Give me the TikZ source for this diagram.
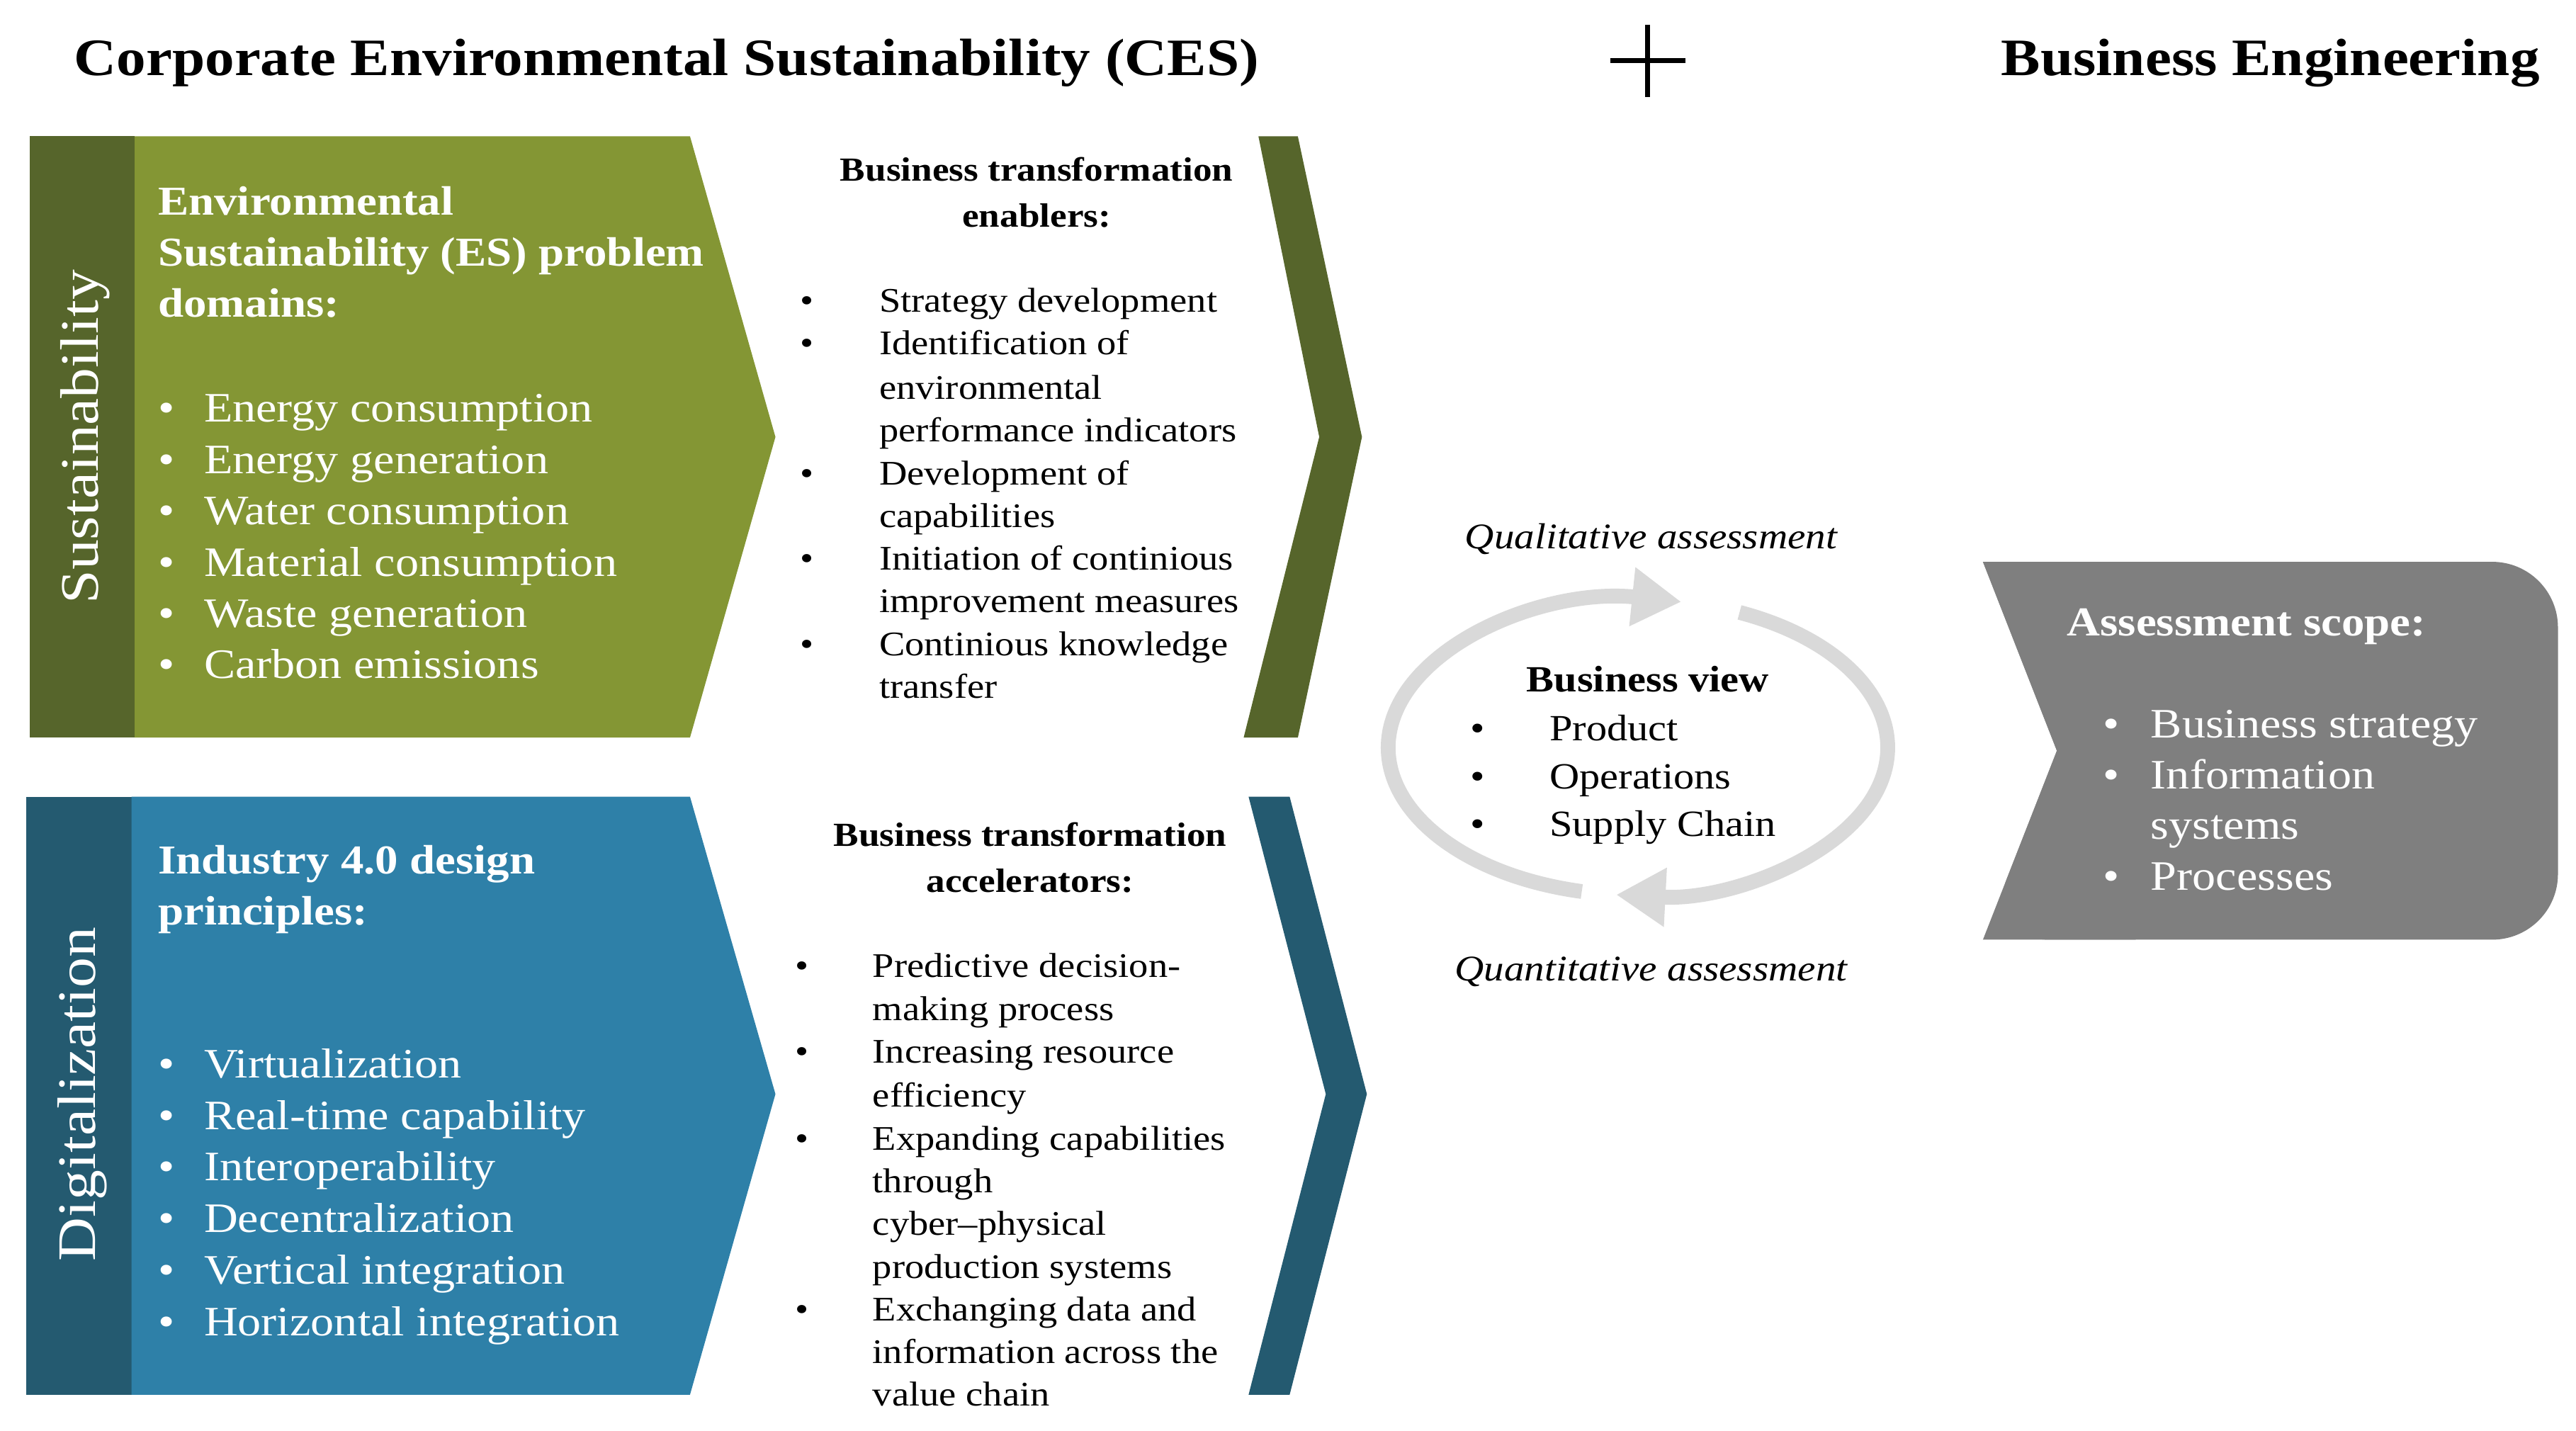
\documentclass[tikz,border=0pt]{standalone}
\usepackage{fontspec}
\setmainfont[FakeStretch=1.12]{Liberation Serif}
\usetikzlibrary{arrows.meta}
\definecolor{dgreen}{HTML}{56652B}
\definecolor{lgreen}{HTML}{849634}
\definecolor{dblue}{HTML}{245A70}
\definecolor{lblue}{HTML}{2E80A8}
\definecolor{sgray}{HTML}{7F7F7F}
\definecolor{cgray}{HTML}{D9D9D9}
\tikzset{
  ttl/.style={font=\fontsize{32}{36}\selectfont\bfseries, anchor=base west, inner sep=0},
  wt/.style={text=white, font=\fontsize{25.5}{28}\selectfont, anchor=base west, inner sep=0},
  wtb/.style={wt, font=\fontsize{25}{28}\selectfont\bfseries},
  sm/.style={font=\fontsize{21}{24}\selectfont, anchor=base west, inner sep=0},
  smb/.style={font=\fontsize{20.5}{24}\selectfont\bfseries, anchor=base, inner sep=0},
  mid/.style={font=\fontsize{22.5}{26}\selectfont, anchor=base west, inner sep=0},
  rot/.style={text=white, font=\fontsize{33}{36}\selectfont, rotate=90, inner sep=0},
  cyc/.style={cgray, line width=9pt},
}
\begin{document}
\begin{tikzpicture}[x=1pt,y=-1pt]
\useasboundingbox (0,0) rectangle (1568,871);
% titles
\node[ttl] (t1) at (45,46) {Corporate Environmental Sustainability (CES)};
\node[ttl] (t2) at (1218,46) {Business Engineering};
\draw[line width=3pt] (980,37) -- (1026,37) (1003,15) -- (1003,59);
% green panel
\fill[dgreen] (18,83) rectangle (82,449);
\fill[lgreen] (82,83) -- (420,83) -- (472,266) -- (420,449) -- (82,449) -- cycle;
\node[rot] (sus) at (52,266) {Sustainability};
\node[wtb] (g1) at (96,131) {Environmental};
\node[wtb] (g2) at (96,162) {Sustainability (ES) problem};
\node[wtb] (g3) at (96,193) {domains:};
\foreach \t [count=\i] in {Energy consumption,Energy generation,Water consumption,Material consumption,Waste generation,Carbon emissions}{
  \node[wt] (gb\i) at (96,{249+31.2*(\i-1)+8}) {\textbullet};
  \node[wt] (gt\i) at (124,{249+31.2*(\i-1)+8}) {\t};
}
\fill[dgreen] (766,83) -- (790,83) -- (829,266) -- (790,449) -- (757,449) -- (803,266) -- cycle;
\node[smb] (eh1) at (631,110) {Business transformation};
\node[smb] (eh2) at (631,138) {enablers:};
\foreach \y/\t [count=\i] in {183/Strategy development,209/Identification of,236/environmental,262/performance indicators,288/Development of,314/capabilities,340/Initiation of continious,366/improvement measures,392/Continious knowledge,418/transfer}{
  \node[sm] (et\i) at (535,\y+7) {\t};
}
\foreach \y [count=\i] in {183,209,288,340,392}{
  \node[sm] (eb\i) at (487,\y+7) {\textbullet};
}
% blue panel
\fill[dblue] (16,485) rectangle (80,849);
\fill[lblue] (80,485) -- (420,485) -- (472,666) -- (420,849) -- (80,849) -- cycle;
\node[rot] (dig) at (50,666) {Digitalization};
\node[wtb] (b1) at (96,532) {Industry 4.0 design};
\node[wtb] (b2) at (96,563) {principles:};
\foreach \t [count=\i] in {Virtualization,Real-time capability,Interoperability,Decentralization,Vertical integration,Horizontal integration}{
  \node[wt] (bb\i) at (96,{648+31.4*(\i-1)+8}) {\textbullet};
  \node[wt] (bt\i) at (124,{648+31.4*(\i-1)+8}) {\t};
}
\fill[dblue] (760,485) -- (785,485) -- (832,666) -- (785,849) -- (760,849) -- (807,666) -- cycle;
\node[smb] (ah1) at (627,515) {Business transformation};
\node[smb] (ah2) at (627,543) {accelerators:};
\foreach \y/\t [count=\i] in {588/Predictive decision-,614/making process,640/Increasing resource,667/efficiency,693/Expanding capabilities,719/through,745/cyber--physical,771/production systems,797/Exchanging data and,823/information across the,849/value chain}{
  \node[sm] (at\i) at (531,\y+7) {\t};
}
\foreach \y [count=\i] in {588,640,693,797}{
  \node[sm] (ab\i) at (484,\y+7) {\textbullet};
}
% cycle
\coordinate (cc) at (997,455);
\draw[cyc, -{Triangle[width=34pt,length=30pt]}] ([shift={(-103:152pt and 90pt)}]cc) arc[start angle=-103, end angle=-280, x radius=152pt, y radius=90pt];
\draw[cyc, -{Triangle[width=34pt,length=30pt]}] ([shift={(66:152pt and 90pt)}]cc) arc[start angle=66, end angle=-95, x radius=152pt, y radius=90pt];
\node[font=\fontsize{22}{26}\selectfont\itshape, anchor=base, inner sep=0] (q1) at (1005,334) {Qualitative assessment};
\node[font=\fontsize{22}{26}\selectfont\itshape, anchor=base, inner sep=0] (q2) at (1005,597) {Quantitative assessment};
\node[font=\fontsize{22.5}{26}\selectfont\bfseries, anchor=base, inner sep=0] (bv) at (1003,421) {Business view};
\foreach \y/\t [count=\i] in {444/Product,473/Operations,502/Supply Chain}{
  \node[mid] (vb\i) at (895,\y+7) {\textbullet};
  \node[mid] (vt\i) at (943,\y+7) {\t};
}
% scope
\fill[sgray, rounded corners=40pt] (1207,342) -- (1557,342) -- (1557,572) -- (1207,572) [sharp corners] -- (1252,457) -- cycle;
\fill[sgray] (1207,342) -- (1300,342) -- (1300,572) -- (1207,572) -- (1252,457) -- cycle;
\node[wtb] (s0) at (1258,387) {Assessment scope:};
\foreach \y in {441,472,534}{
  \node[wt] (sb\y) at (1280,\y+8) {\textbullet};
}
\foreach \y/\t in {441/Business strategy,472/Information,503/systems,534/Processes}{
  \node[wt] (st\y) at (1309,\y+8) {\t};
}
\end{tikzpicture}
\end{document}
